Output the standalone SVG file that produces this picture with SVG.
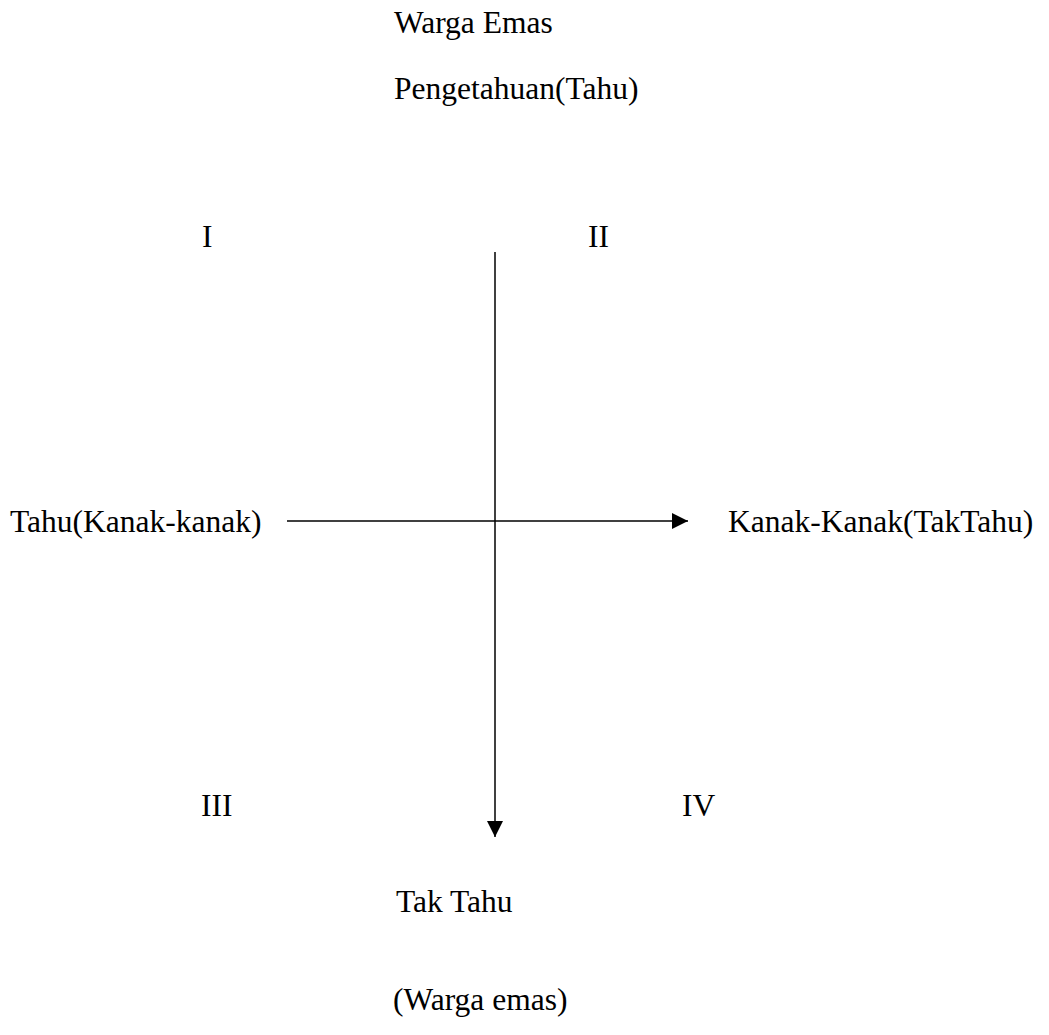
<svg xmlns="http://www.w3.org/2000/svg" width="1049" height="1035" viewBox="0 0 1049 1035">
<style>
.lbl{font-family:"Liberation Serif","Times New Roman",serif;font-size:31.5px;fill:#000}
.axis{stroke:#000;stroke-width:1.5;fill:none}
</style>
<defs>
<marker id="arrow" markerUnits="userSpaceOnUse" markerWidth="16" markerHeight="16" refX="16" refY="8" orient="auto">
<path d="M0,0 L16,8 L0,16 z" fill="#000"/>
</marker>
</defs>
<rect width="1049" height="1035" fill="#fff"/>
<g id="connectors">
<line class="axis" x1="495" y1="252" x2="495" y2="837" marker-end="url(#arrow)"/>
<line class="axis" x1="287" y1="521" x2="688" y2="521" marker-end="url(#arrow)"/>
</g>
<g id="top-title"><text class="lbl" x="394" y="33">Warga Emas</text></g>
<g id="top-axis"><text class="lbl" x="394" y="99">Pengetahuan(Tahu)</text></g>
<g id="q1"><text class="lbl" x="202" y="247">I</text></g>
<g id="q2"><text class="lbl" x="588" y="247">II</text></g>
<g id="left-axis"><text class="lbl" x="10" y="532">Tahu(Kanak-kanak)</text></g>
<g id="right-axis"><text class="lbl" x="728" y="532">Kanak-Kanak(TakTahu)</text></g>
<g id="q3"><text class="lbl" x="201" y="816">III</text></g>
<g id="q4"><text class="lbl" x="682" y="816">IV</text></g>
<g id="bottom-axis"><text class="lbl" x="396" y="912">Tak Tahu</text></g>
<g id="bottom-title"><text class="lbl" x="393" y="1010">(Warga emas)</text></g>
</svg>
